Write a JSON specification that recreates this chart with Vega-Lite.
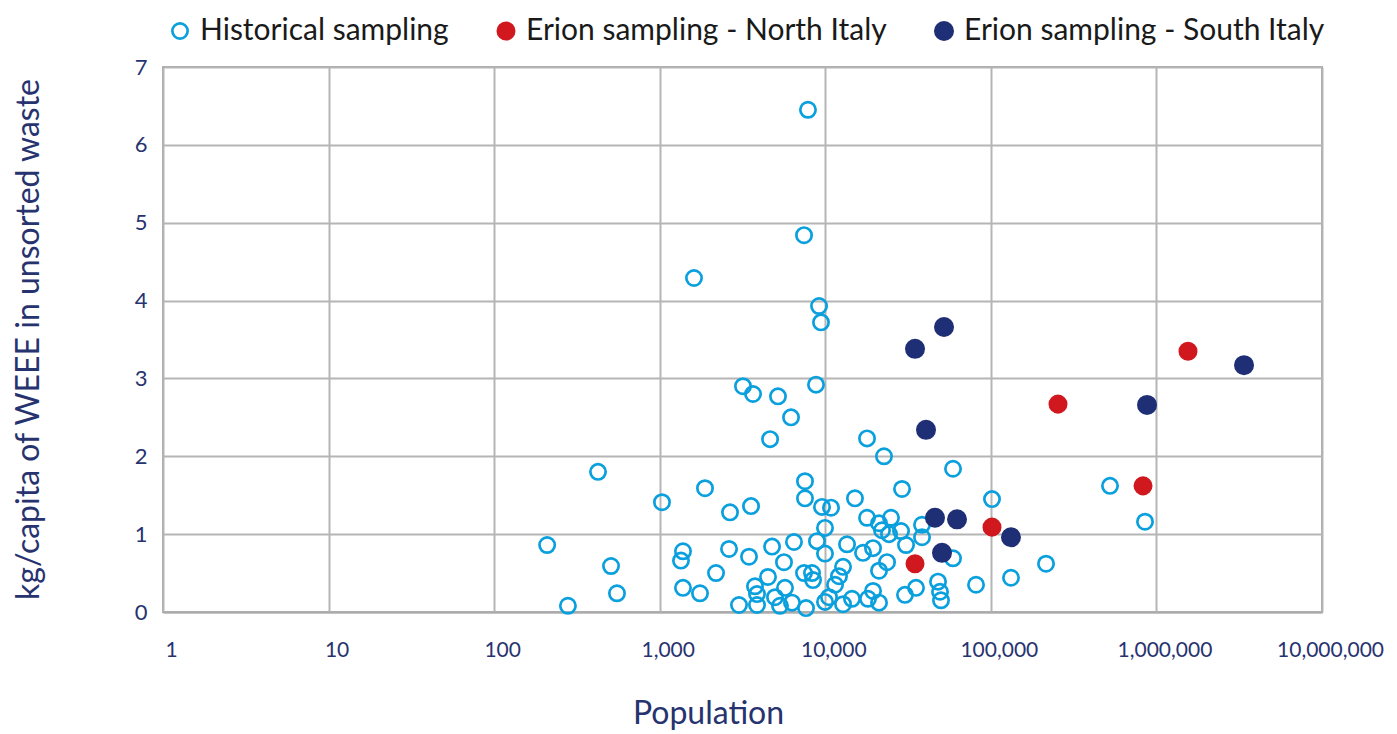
{
  "$schema": "https://vega.github.io/schema/vega-lite/v6.json",
  "autosize": {"type": "none"},
  "width": 1159,
  "height": 545,
  "padding": {"left": 163, "top": 67, "right": 75, "bottom": 122},
  "background": "white",
  "config": {
    "view": {"stroke": "#ababab", "strokeWidth": 2},
    "font": "Lato"
  },
  "data": {
    "values": [
      {"group": "Historical sampling", "population": 7860, "kg": 6.45},
      {"group": "Historical sampling", "population": 7440, "kg": 4.84},
      {"group": "Historical sampling", "population": 1611, "kg": 4.29},
      {"group": "Historical sampling", "population": 9170, "kg": 3.93},
      {"group": "Historical sampling", "population": 9420, "kg": 3.72},
      {"group": "Historical sampling", "population": 3184, "kg": 2.9},
      {"group": "Historical sampling", "population": 3660, "kg": 2.8},
      {"group": "Historical sampling", "population": 5180, "kg": 2.77},
      {"group": "Historical sampling", "population": 8790, "kg": 2.92},
      {"group": "Historical sampling", "population": 6210, "kg": 2.5},
      {"group": "Historical sampling", "population": 4640, "kg": 2.22},
      {"group": "Historical sampling", "population": 17870, "kg": 2.23},
      {"group": "Historical sampling", "population": 22620, "kg": 2.0},
      {"group": "Historical sampling", "population": 424, "kg": 1.8},
      {"group": "Historical sampling", "population": 59080, "kg": 1.84},
      {"group": "Historical sampling", "population": 7540, "kg": 1.68},
      {"group": "Historical sampling", "population": 7540, "kg": 1.46},
      {"group": "Historical sampling", "population": 1032, "kg": 1.41},
      {"group": "Historical sampling", "population": 1877, "kg": 1.59},
      {"group": "Historical sampling", "population": 2658, "kg": 1.28},
      {"group": "Historical sampling", "population": 3560, "kg": 1.36},
      {"group": "Historical sampling", "population": 9555, "kg": 1.35},
      {"group": "Historical sampling", "population": 10830, "kg": 1.34},
      {"group": "Historical sampling", "population": 15110, "kg": 1.46},
      {"group": "Historical sampling", "population": 29070, "kg": 1.58},
      {"group": "Historical sampling", "population": 101600, "kg": 1.45},
      {"group": "Historical sampling", "population": 524400, "kg": 1.62},
      {"group": "Historical sampling", "population": 853100, "kg": 1.16},
      {"group": "Historical sampling", "population": 17870, "kg": 1.21},
      {"group": "Historical sampling", "population": 24940, "kg": 1.21},
      {"group": "Historical sampling", "population": 21110, "kg": 1.14},
      {"group": "Historical sampling", "population": 22010, "kg": 1.05},
      {"group": "Historical sampling", "population": 24260, "kg": 1.0},
      {"group": "Historical sampling", "population": 28670, "kg": 1.04},
      {"group": "Historical sampling", "population": 38390, "kg": 1.12},
      {"group": "Historical sampling", "population": 38390, "kg": 0.96},
      {"group": "Historical sampling", "population": 30730, "kg": 0.86},
      {"group": "Historical sampling", "population": 9960, "kg": 1.08},
      {"group": "Historical sampling", "population": 8910, "kg": 0.91},
      {"group": "Historical sampling", "population": 9960, "kg": 0.75},
      {"group": "Historical sampling", "population": 13530, "kg": 0.87},
      {"group": "Historical sampling", "population": 16900, "kg": 0.76},
      {"group": "Historical sampling", "population": 19420, "kg": 0.82},
      {"group": "Historical sampling", "population": 23600, "kg": 0.64},
      {"group": "Historical sampling", "population": 21110, "kg": 0.53},
      {"group": "Historical sampling", "population": 6470, "kg": 0.9},
      {"group": "Historical sampling", "population": 4770, "kg": 0.84},
      {"group": "Historical sampling", "population": 2622, "kg": 0.81},
      {"group": "Historical sampling", "population": 3462, "kg": 0.71},
      {"group": "Historical sampling", "population": 5630, "kg": 0.64},
      {"group": "Historical sampling", "population": 1382, "kg": 0.78},
      {"group": "Historical sampling", "population": 1344, "kg": 0.66},
      {"group": "Historical sampling", "population": 209, "kg": 0.86},
      {"group": "Historical sampling", "population": 508, "kg": 0.59},
      {"group": "Historical sampling", "population": 552, "kg": 0.24},
      {"group": "Historical sampling", "population": 279, "kg": 0.08},
      {"group": "Historical sampling", "population": 2188, "kg": 0.5},
      {"group": "Historical sampling", "population": 1382, "kg": 0.31},
      {"group": "Historical sampling", "population": 1751, "kg": 0.24},
      {"group": "Historical sampling", "population": 3763, "kg": 0.33},
      {"group": "Historical sampling", "population": 3869, "kg": 0.23},
      {"group": "Historical sampling", "population": 4508, "kg": 0.45},
      {"group": "Historical sampling", "population": 5711, "kg": 0.31},
      {"group": "Historical sampling", "population": 4970, "kg": 0.19},
      {"group": "Historical sampling", "population": 3012, "kg": 0.09},
      {"group": "Historical sampling", "population": 3869, "kg": 0.09},
      {"group": "Historical sampling", "population": 5326, "kg": 0.08},
      {"group": "Historical sampling", "population": 6295, "kg": 0.12},
      {"group": "Historical sampling", "population": 7650, "kg": 0.05},
      {"group": "Historical sampling", "population": 7440, "kg": 0.5},
      {"group": "Historical sampling", "population": 8315, "kg": 0.5},
      {"group": "Historical sampling", "population": 8430, "kg": 0.41},
      {"group": "Historical sampling", "population": 12800, "kg": 0.58},
      {"group": "Historical sampling", "population": 12100, "kg": 0.46},
      {"group": "Historical sampling", "population": 11450, "kg": 0.35},
      {"group": "Historical sampling", "population": 9960, "kg": 0.13},
      {"group": "Historical sampling", "population": 10530, "kg": 0.19},
      {"group": "Historical sampling", "population": 12800, "kg": 0.1},
      {"group": "Historical sampling", "population": 14500, "kg": 0.17},
      {"group": "Historical sampling", "population": 18110, "kg": 0.17},
      {"group": "Historical sampling", "population": 19420, "kg": 0.27},
      {"group": "Historical sampling", "population": 21110, "kg": 0.12},
      {"group": "Historical sampling", "population": 30300, "kg": 0.22},
      {"group": "Historical sampling", "population": 35310, "kg": 0.31},
      {"group": "Historical sampling", "population": 47960, "kg": 0.39},
      {"group": "Historical sampling", "population": 49310, "kg": 0.26},
      {"group": "Historical sampling", "population": 49990, "kg": 0.15},
      {"group": "Historical sampling", "population": 59080, "kg": 0.69},
      {"group": "Historical sampling", "population": 81360, "kg": 0.35},
      {"group": "Historical sampling", "population": 132300, "kg": 0.44},
      {"group": "Historical sampling", "population": 215400, "kg": 0.62},
      {"group": "Erion sampling - North Italy", "population": 1551000, "kg": 3.35},
      {"group": "Erion sampling - North Italy", "population": 254400, "kg": 2.67},
      {"group": "Erion sampling - North Italy", "population": 829900, "kg": 1.62},
      {"group": "Erion sampling - North Italy", "population": 101600, "kg": 1.09},
      {"group": "Erion sampling - North Italy", "population": 34830, "kg": 0.62},
      {"group": "Erion sampling - South Italy", "population": 3381000, "kg": 3.17},
      {"group": "Erion sampling - South Italy", "population": 877400, "kg": 2.66},
      {"group": "Erion sampling - South Italy", "population": 34830, "kg": 3.38},
      {"group": "Erion sampling - South Italy", "population": 52130, "kg": 3.66},
      {"group": "Erion sampling - South Italy", "population": 40580, "kg": 2.34},
      {"group": "Erion sampling - South Italy", "population": 45980, "kg": 1.21},
      {"group": "Erion sampling - South Italy", "population": 62460, "kg": 1.19},
      {"group": "Erion sampling - South Italy", "population": 50690, "kg": 0.76},
      {"group": "Erion sampling - South Italy", "population": 132300, "kg": 0.96}
    ]
  },
  "mark": {"type": "point", "shape": "circle", "strokeWidth": 2.7, "opacity": 1},
  "encoding": {
    "x": {
      "field": "population",
      "type": "quantitative",
      "scale": {"type": "log", "domain": [1, 10000000], "nice": false},
      "axis": {
        "values": [1, 10, 100, 1000, 10000, 100000, 1000000, 10000000],
        "format": ",",
        "title": "Population",
        "titleFont": "Lato",
        "titleFontSize": 32,
        "titleFontWeight": "normal",
        "titleColor": "#27336f",
        "titleX": 545,
        "titleY": 101,
        "titleAlign": "center",
        "titleBaseline": "middle",
        "labelFont": "Lato",
        "labelFontSize": 21,
        "labelColor": "#27336f",
        "labelPadding": 27,
        "labelOffset": 8,
        "labelFlush": false,
        "labelOverlap": false,
        "ticks": false,
        "domainColor": "#ababab",
        "domainWidth": 2,
        "gridColor": "#b5b5b5",
        "gridWidth": 2
      }
    },
    "y": {
      "field": "kg",
      "type": "quantitative",
      "scale": {"domain": [0, 7], "nice": false},
      "axis": {
        "values": [0, 1, 2, 3, 4, 5, 6, 7],
        "title": "kg/capita of WEEE in unsorted waste",
        "titleFont": "Lato",
        "titleFontSize": 32,
        "titleFontWeight": "normal",
        "titleColor": "#27336f",
        "titleX": -135,
        "titleY": 272,
        "titleAngle": -90,
        "titleAlign": "center",
        "titleBaseline": "middle",
        "labelFont": "Lato",
        "labelFontSize": 22,
        "labelColor": "#27336f",
        "labelPadding": 16,
        "ticks": false,
        "domain": false,
        "gridColor": "#b5b5b5",
        "gridWidth": 2
      }
    },
    "stroke": {
      "field": "group",
      "type": "nominal",
      "scale": {
        "domain": ["Historical sampling", "Erion sampling - North Italy", "Erion sampling - South Italy"],
        "range": ["#0aa0dd", "#d0181e", "#1f2f76"]
      },
      "legend": {
        "title": null,
        "orient": "none",
        "direction": "horizontal",
        "legendX": 2,
        "legendY": -51,
        "labelFont": "Lato",
        "labelFontSize": 30,
        "labelColor": "#1a1a1a",
        "labelLimit": 500,
        "labelOffset": 5,
        "columnPadding": 42,
        "symbolStrokeWidth": 2.7
      }
    },
    "fill": {
      "field": "group",
      "type": "nominal",
      "scale": {
        "domain": ["Historical sampling", "Erion sampling - North Italy", "Erion sampling - South Italy"],
        "range": ["rgba(255,255,255,0)", "#d0181e", "#1f2f76"]
      },
      "legend": {
        "title": null,
        "orient": "none",
        "direction": "horizontal",
        "legendX": 2,
        "legendY": -51,
        "labelFont": "Lato",
        "labelFontSize": 30,
        "labelColor": "#1a1a1a",
        "labelLimit": 500,
        "labelOffset": 5,
        "columnPadding": 42,
        "symbolStrokeWidth": 2.7
      }
    },
    "size": {
      "field": "group",
      "type": "nominal",
      "scale": {
        "domain": ["Historical sampling", "Erion sampling - North Italy", "Erion sampling - South Italy"],
        "range": [234, 300, 300]
      },
      "legend": {
        "title": null,
        "orient": "none",
        "direction": "horizontal",
        "legendX": 2,
        "legendY": -51,
        "labelFont": "Lato",
        "labelFontSize": 30,
        "labelColor": "#1a1a1a",
        "labelLimit": 500,
        "labelOffset": 5,
        "columnPadding": 42,
        "symbolStrokeWidth": 2.7
      }
    }
  }
}
